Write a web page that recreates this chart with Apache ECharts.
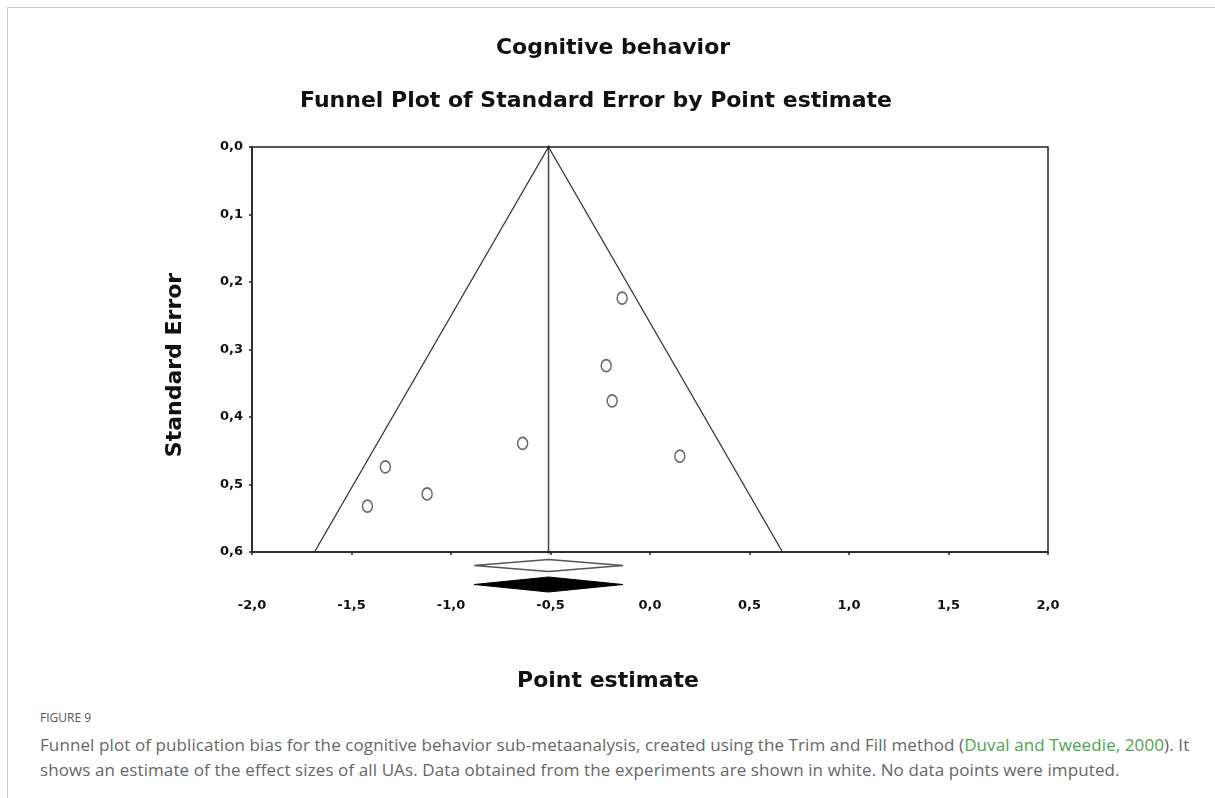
<!DOCTYPE html>
<html>
<head>
<meta charset="utf-8">
<script src="https://cdn.jsdelivr.net/npm/echarts@6/dist/echarts.min.js"></script>
<style>
  html, body { margin: 0; padding: 0; background: #fff; width: 1215px; height: 798px; overflow: hidden; }
  #frame { position: absolute; left: 7px; top: 7px; width: 1220px; height: 800px; border-top: 1px solid #c8c8c8; border-left: 1px solid #c8c8c8; }
  #chart { position: absolute; left: 0; top: 0; width: 1215px; height: 700px; }
  #figlabel { position: absolute; left: 40px; top: 709px; font-family: "Open Sans", sans-serif; font-size: 12px; color: #555; }
  #caption { position: absolute; left: 40px; top: 732px; width: 1165px; font-family: "Open Sans", sans-serif; font-size: 17px; letter-spacing: 0.1px; line-height: 25px; color: #666; }
  #caption .ref { color: #4aa64a; }
</style>
</head>
<body>
<div id="frame"></div>
<div id="chart"></div>
<div id="figlabel">FIGURE 9</div>
<div id="caption">Funnel plot of publication bias for the cognitive behavior sub-metaanalysis, created using the Trim and Fill method (<span class="ref">Duval and Tweedie, 2000</span>). It shows an estimate of the effect sizes of all UAs. Data obtained from the experiments are shown in white. No data points were imputed.</div>
<script>
// ---- data ----
const mainTitle = 'Cognitive behavior';
const plotTitle = 'Funnel Plot of Standard Error by Point estimate';
const xName = 'Point estimate';
const yName = 'Standard Error';
const xTicks = [-2.0, -1.5, -1.0, -0.5, 0.0, 0.5, 1.0, 1.5, 2.0];
const yTicks = [0.0, 0.1, 0.2, 0.3, 0.4, 0.5, 0.6];
// study point estimates and standard errors (observed studies)
const pointEstimates = [-0.14, -0.22, -0.19, -0.64, 0.15, -1.33, -1.12, -1.42];
const standardErrors = [0.224, 0.324, 0.376, 0.439, 0.458, 0.474, 0.514, 0.532];
// combined effect
const combinedEstimate = -0.51;
const funnelSEMax = 0.6;
const zCrit = 1.96;
// summary diamonds: [lower, point, upper]
const diamondRows = ['Observed', 'Imputed'];
const diamondValues = [[-0.884, -0.51, -0.136], [-0.884, -0.51, -0.136]];

// ---- build ----
const fmt = v => v.toFixed(1).replace('.', ',');
const scatterData = pointEstimates.map((x, i) => [x, standardErrors[i]]);
const funnelData = [
  [combinedEstimate - zCrit * funnelSEMax, funnelSEMax],
  [combinedEstimate, 0],
  [combinedEstimate + zCrit * funnelSEMax, funnelSEMax]
];
const meanLineData = [[combinedEstimate, 0], [combinedEstimate, funnelSEMax]];
const diamondData = diamondValues.map((d, i) => [d[0], d[1], d[2], i]);

const chart = echarts.init(document.getElementById('chart'), null, { renderer: 'canvas' });
const ink = '#222';
const labelFont = { fontFamily: 'DejaVu Sans', fontWeight: 'bold', fontSize: 13, color: '#111' };
const titleFont = { fontFamily: 'DejaVu Sans', fontWeight: 'bold', fontSize: 22, fill: '#111', textAlign: 'center', textVerticalAlign: 'middle' };

chart.setOption({
  animation: false,
  backgroundColor: 'transparent',
  graphic: [
    { type: 'text', x: 613, y: 48, style: Object.assign({ text: mainTitle }, titleFont) },
    { type: 'text', x: 596, y: 101, style: Object.assign({ text: plotTitle }, titleFont) },
    { type: 'text', x: 608, y: 681, style: Object.assign({ text: xName }, titleFont) },
    { type: 'text', x: 175, y: 365, rotation: Math.PI / 2, style: Object.assign({ text: yName }, titleFont) }
  ],
  grid: [
    { left: 252, top: 147, width: 796, height: 405, show: true, borderColor: ink, borderWidth: 1.5, backgroundColor: 'transparent' },
    { left: 252, top: 556, width: 796, height: 38, show: false }
  ],
  xAxis: [
    {
      type: 'value', gridIndex: 0, min: -2, max: 2, interval: 0.5,
      axisLine: { show: true, onZero: false, lineStyle: { color: ink, width: 1.5 } },
      axisTick: { show: true, inside: false, length: 3, lineStyle: { color: ink, width: 1.5 } },
      axisLabel: Object.assign({ margin: 47, formatter: fmt }, labelFont),
      splitLine: { show: false }
    },
    { type: 'value', gridIndex: 1, min: -2, max: 2, show: false }
  ],
  yAxis: [
    {
      type: 'value', gridIndex: 0, min: 0, max: 0.6, interval: 0.1, inverse: true,
      axisLine: { show: true, onZero: false, lineStyle: { color: ink, width: 1.5 } },
      axisTick: { show: true, length: 3, lineStyle: { color: ink, width: 1.5 } },
      axisLabel: Object.assign({ margin: 9, formatter: fmt }, labelFont),
      splitLine: { show: false }
    },
    { type: 'category', gridIndex: 1, data: diamondRows, inverse: true, show: false }
  ],
  series: [
    {
      type: 'line', xAxisIndex: 0, yAxisIndex: 0, data: funnelData, symbol: 'none',
      lineStyle: { color: '#333', width: 1.3 }, silent: true
    },
    {
      type: 'line', xAxisIndex: 0, yAxisIndex: 0, data: meanLineData, symbol: 'circle', symbolSize: 3,
      itemStyle: { color: '#222' },
      lineStyle: { color: '#444', width: 1.5 }, silent: true
    },
    {
      type: 'scatter', xAxisIndex: 0, yAxisIndex: 0, data: scatterData,
      symbol: 'circle', symbolSize: [10, 12],
      itemStyle: { color: '#fff', borderColor: '#444', borderWidth: 1.6 }
    },
    {
      type: 'custom', xAxisIndex: 1, yAxisIndex: 1, data: diamondData,
      encode: { x: [0, 1, 2], y: 3 },
      renderItem: function (params, api) {
        const row = api.value(3);
        const lo = api.coord([api.value(0), row]);
        const mid = api.coord([api.value(1), row]);
        const hi = api.coord([api.value(2), row]);
        const h = row === 0 ? 6 : 7.5;
        const filled = row === 1;
        return {
          type: 'polygon',
          shape: { points: [[lo[0], lo[1]], [mid[0], mid[1] - h], [hi[0], hi[1]], [mid[0], mid[1] + h]] },
          style: { fill: filled ? '#000' : '#fff', stroke: filled ? '#000' : '#555', lineWidth: filled ? 1 : 1.6 }
        };
      }
    }
  ]
});
</script>
</body>
</html>
